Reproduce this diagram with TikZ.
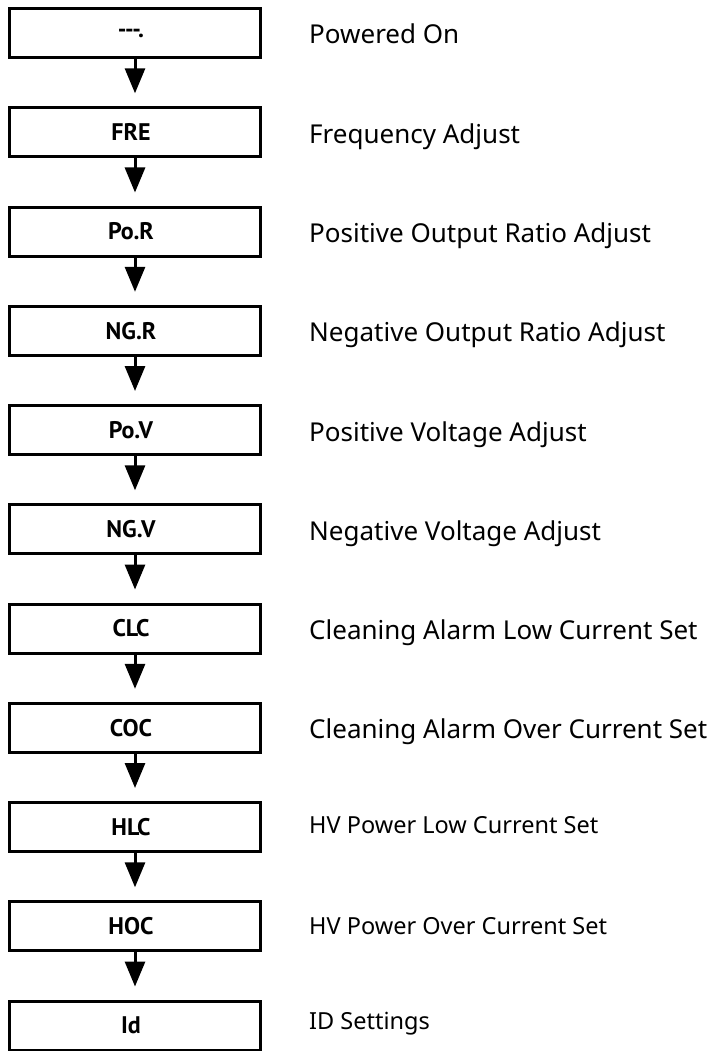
\documentclass[tikz,border=0pt]{standalone}
\usepackage{fontspec}
\setmainfont{Noto Sans}
\newfontfamily\menufont{PT Sans}
\usetikzlibrary{arrows.meta}
\tikzstyle{base} = [draw, line width=3pt, minimum width=251pt, minimum height=49pt, inner sep=0pt, text centered]
\tikzstyle{menu} = [base, rectangle, font=\menufont\bfseries\fontsize{24}{29}\selectfont]
\tikzstyle{note} = [anchor=base west, inner sep=0pt, font=\fontsize{26}{31}\selectfont]
\tikzstyle{note small} = [note, font=\fontsize{23.5}{28}\selectfont]
\tikzstyle{connector} = [draw, line width=3pt, -{Triangle[width=20pt,length=25pt]}, shorten >=13pt]

\begin{document}
\begin{tikzpicture}[x=1pt, y=1pt]
	\useasboundingbox (0,0) rectangle (720,-1051);
	
	% menu boxes
	\node [menu] at (135, -33) (power) {\hspace*{-8pt}{-}{-}{-}.};
	\node [menu] at (135, -132.3) (fre) {\hspace*{-8pt}FRE};
	\node [menu] at (135, -231.5) (por) {\hspace*{-8pt}Po.R};
	\node [menu] at (135, -330.8) (ngr) {\hspace*{-8pt}NG.R};
	\node [menu] at (135, -430) (pov) {\hspace*{-8pt}Po.V};
	\node [menu] at (135, -529.3) (ngv) {\hspace*{-8pt}NG.V};
	\node [menu] at (135, -628.5) (clc) {\hspace*{-8pt}CLC};
	\node [menu] at (135, -727.8) (coc) {\hspace*{-8pt}COC};
	\node [menu] at (135, -827) (hlc) {\hspace*{-8pt}HLC};
	\node [menu] at (135, -926.3) (hoc) {\hspace*{-8pt}HOC};
	\node [menu] at (135, -1025.5) (id) {\hspace*{-8pt}Id};
	
	\path [connector] (power) -- (fre);
	\path [connector] (fre) -- (por);
	\path [connector] (por) -- (ngr);
	\path [connector] (ngr) -- (pov);
	\path [connector] (pov) -- (ngv);
	\path [connector] (ngv) -- (clc);
	\path [connector] (clc) -- (coc);
	\path [connector] (coc) -- (hlc);
	\path [connector] (hlc) -- (hoc);
	\path [connector] (hoc) -- (id);
	
	% descriptions
	\node [note] at (309, -44) (power text) {Powered On};
	\node [note] at (309, -143.3) (fre text) {Frequency Adjust};
	\node [note] at (309, -242.5) (por text) {Positive Output Ratio Adjust};
	\node [note] at (309, -341.8) (ngr text) {Negative Output Ratio Adjust};
	\node [note] at (309, -441) (pov text) {Positive Voltage Adjust};
	\node [note] at (309, -540.3) (ngv text) {Negative Voltage Adjust};
	\node [note] at (309, -639.5) (clc text) {Cleaning Alarm Low Current Set};
	\node [note] at (309, -738.8) (coc text) {Cleaning Alarm Over Current Set};
	\node [note small] at (309, -833) (hlc text) {HV Power Low Current Set};
	\node [note small] at (309, -934) (hoc text) {HV Power Over Current Set};
	\node [note small] at (309, -1029) (id text) {ID Settings};
	
\end{tikzpicture}
\end{document}
